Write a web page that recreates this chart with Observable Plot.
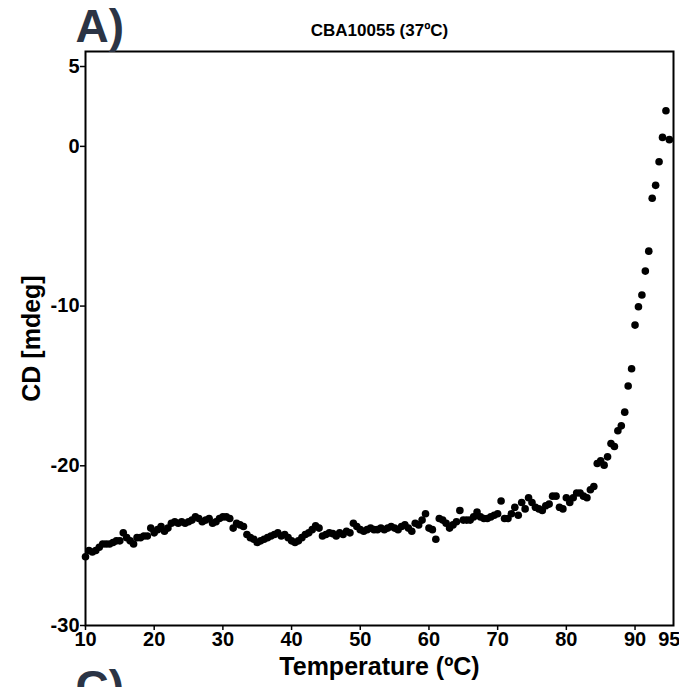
<!DOCTYPE html>
<html><head><meta charset="utf-8">
<script src="https://cdn.jsdelivr.net/npm/d3@7"></script>
<script src="https://cdn.jsdelivr.net/npm/@observablehq/plot@0.6"></script>
<style>
body{margin:0;background:#fff;}
#chart{position:relative;width:679px;height:687px;overflow:hidden;}
</style></head><body><div id="chart"></div>
<script>
const temperature = [
10.0,10.5,11.0,11.5,12.0,12.5,13.0,13.5,14.0,14.5,15.0,15.5,16.0,16.5,17.0,17.5,18.0,18.5,19.0,19.5,
20.0,20.5,21.0,21.5,22.0,22.5,23.0,23.5,24.0,24.5,25.0,25.5,26.0,26.5,27.0,27.5,28.0,28.5,29.0,29.5,
30.0,30.5,31.0,31.5,32.0,32.5,33.0,33.5,34.0,34.5,35.0,35.5,36.0,36.5,37.0,37.5,38.0,38.5,39.0,39.5,
40.0,40.5,41.0,41.5,42.0,42.5,43.0,43.5,44.0,44.5,45.0,45.5,46.0,46.5,47.0,47.5,48.0,48.5,49.0,49.5,
50.0,50.5,51.0,51.5,52.0,52.5,53.0,53.5,54.0,54.5,55.0,55.5,56.0,56.5,57.0,57.5,58.0,58.5,59.0,59.5,
60.0,60.5,61.0,61.5,62.0,62.5,63.0,63.5,64.0,64.5,65.0,65.5,66.0,66.5,67.0,67.5,68.0,68.5,69.0,69.5,
70.0,70.5,71.0,71.5,72.0,72.5,73.0,73.5,74.0,74.5,75.0,75.5,76.0,76.5,77.0,77.5,78.0,78.5,79.0,79.5,
80.0,80.5,81.0,81.5,82.0,82.5,83.0,83.5,84.0,84.5,85.0,85.5,86.0,86.5,87.0,87.5,88.0,88.5,89.0,89.5,
90.0,90.5,91.0,91.5,92.0,92.5,93.0,93.5,94.0,94.5,95.0
];
const cd = [
-25.7,-25.3,-25.4,-25.3,-25.1,-24.9,-24.9,-24.9,-24.8,-24.7,-24.7,-24.2,-24.5,-24.7,-24.9,-24.5,-24.5,-24.4,-24.4,-23.9,
-24.2,-24.0,-23.8,-24.1,-23.9,-23.6,-23.5,-23.6,-23.5,-23.6,-23.5,-23.4,-23.2,-23.3,-23.5,-23.4,-23.3,-23.6,-23.5,-23.3,
-23.2,-23.2,-23.3,-23.9,-23.6,-23.7,-23.8,-24.3,-24.5,-24.6,-24.8,-24.7,-24.6,-24.5,-24.4,-24.3,-24.2,-24.4,-24.3,-24.5,
-24.7,-24.8,-24.7,-24.5,-24.3,-24.2,-24.0,-23.75,-23.9,-24.4,-24.3,-24.2,-24.25,-24.4,-24.2,-24.3,-24.1,-24.2,-23.6,-23.8,
-24.0,-24.1,-24.0,-23.9,-24.0,-24.0,-23.9,-24.0,-23.9,-23.8,-23.9,-24.0,-23.8,-23.7,-23.9,-24.1,-23.6,-23.7,-23.4,-23.0,
-23.9,-24.0,-24.6,-23.3,-23.4,-23.6,-23.9,-23.7,-23.5,-22.8,-23.4,-23.4,-23.4,-23.2,-22.9,-23.2,-23.3,-23.3,-23.2,-23.1,
-23.0,-22.2,-23.3,-23.3,-23.0,-22.6,-23.1,-22.3,-22.7,-22.0,-22.3,-22.6,-22.7,-22.8,-22.5,-22.4,-21.9,-21.9,-22.6,-22.7,
-22.0,-22.3,-22.0,-21.7,-21.7,-21.9,-22.0,-21.5,-21.3,-19.86,-19.69,-19.96,-19.44,-18.61,-18.79,-17.81,-17.5,-16.64,-15.0,-13.92,
-11.19,-10.04,-9.31,-7.81,-6.56,-3.25,-2.44,-0.96,0.56,2.23,0.42
];
const xTicks = [10,20,30,40,50,60,70,80,90];
const xLastTick = [95];
const yTicks = [5,0,-10,-20,-30];
const panelLabel = "A)";
const nextPanelLabel = "C)";
const title = "CBA10055 (37ºC)";
const xLabel = "Temperature (ºC)";
const yLabel = "CD [mdeg]";

const data = temperature.map((t, i) => ({t, cd: cd[i]}));
const font = '"Liberation Sans",Arial,Helvetica,sans-serif';
const tickText = {tickSize: 5, tickPadding: 1, fontSize: 20, fontWeight: "bold", label: null, tickFormat: d => String(d), strokeWidth: 1.5};

const plot = Plot.plot({
  width: 679, height: 687,
  marginLeft: 85, marginRight: 6, marginTop: 51, marginBottom: 62,
  style: {fontFamily: font, background: "#fff", overflow: "visible"},
  x: {domain: [10, 95.6]},
  y: {domain: [-30, 5.94]},
  marks: [
    Plot.axisX({ticks: xTicks, ...tickText}),
    Plot.axisX({ticks: xLastTick, ...tickText, textAnchor: "end", dx: 11}),
    Plot.axisY({ticks: yTicks, ...tickText}),
    Plot.dot(data, {x: "t", y: "cd", r: 3.8, fill: "#000", stroke: "none"}),
    Plot.frame({stroke: "#000", strokeWidth: 2}),
    Plot.text([title], {text: d => d, frameAnchor: "top", lineAnchor: "middle", dy: -21, fontSize: 17, fontWeight: "bold", fill: "#000"}),
    Plot.text([xLabel], {text: d => d, frameAnchor: "bottom", lineAnchor: "middle", dy: 41, fontSize: 25, fontWeight: "bold", fill: "#000"}),
    Plot.text([yLabel], {text: d => d, frameAnchor: "left", textAnchor: "middle", lineAnchor: "middle", dx: -54, rotate: -90, fontSize: 25, fontWeight: "bold", fill: "#000"}),
    Plot.text([panelLabel], {text: d => d, frameAnchor: "top-left", textAnchor: "start", lineAnchor: "middle", dx: -10, dy: -24, fontSize: 46, fontWeight: "bold", fill: "#2b3445"}),
    Plot.text([nextPanelLabel], {text: d => d, frameAnchor: "bottom-left", textAnchor: "start", lineAnchor: "middle", dx: -10, dy: 63, fontSize: 46, fontWeight: "bold", fill: "#2b3445"})
  ]
});
document.getElementById("chart").appendChild(plot);
</script></body></html>
